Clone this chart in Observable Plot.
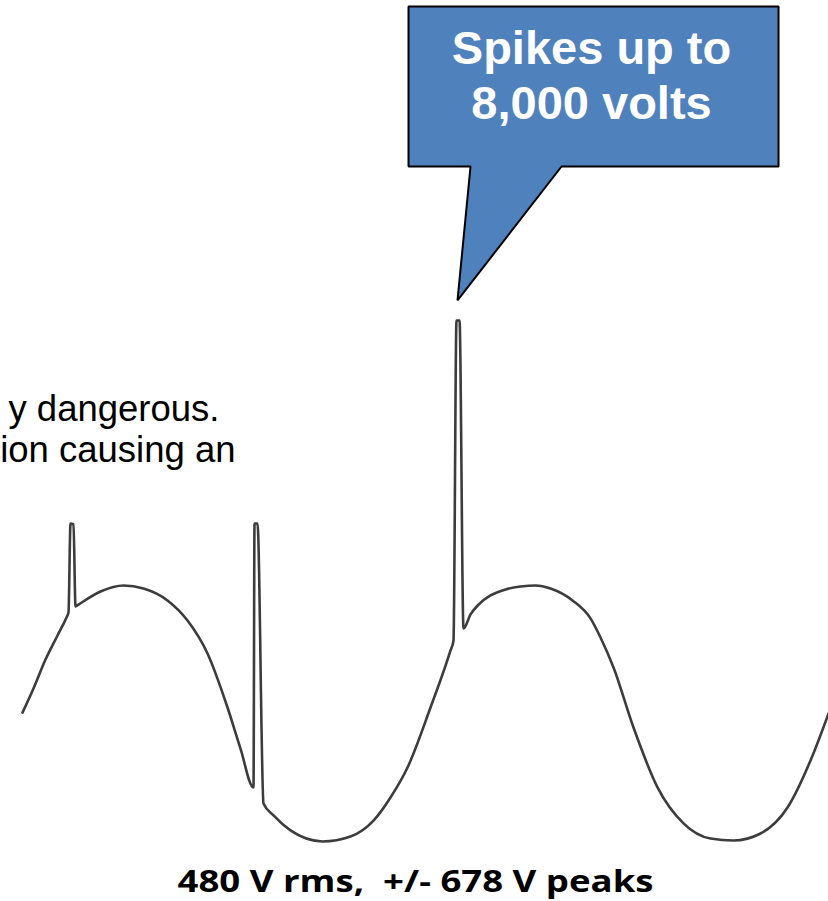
<!DOCTYPE html>
<html>
<head>
<meta charset="utf-8">
<script src="https://cdn.jsdelivr.net/npm/d3@7"></script>
<script src="https://cdn.jsdelivr.net/npm/@observablehq/plot@0.6"></script>
<style>
  html, body { margin: 0; padding: 0; background: #fff; }
  #chart svg { display: block; background: #fff; }
</style>
</head>
<body>
<div id="chart"></div>
<script>
// Waveform: time (ms) and voltage (V) (not to scale for the spikes)
const waveTime = [0.886, 1.328, 1.811, 2.295, 2.657, 2.737, 2.818, 2.939, 3.019, 3.140, 4.026, 4.951, 5.756, 6.723, 7.528, 8.333, 9.138, 9.661, 10.184, 10.225, 10.345, 10.587, 10.990, 11.674, 12.962, 14.089, 15.015, 15.699, 16.384, 17.310, 18.115, 18.235, 18.356, 18.477, 18.638, 18.920, 19.242, 19.725, 20.329, 20.933, 21.537, 22.140, 23.026, 23.750, 24.153, 24.676, 25.481, 26.447, 27.494, 28.581, 29.507, 30.594, 31.681, 32.606, 33.331];
const waveVolts = [-3, 124, 277, 404, 499, 525, 995, 990, 557, 567, 636, 668, 652, 589, 483, 309, 24, -193, -398, 995, 995, -483, -546, -625, -683, -657, -573, -451, -293, 24, 325, 377, 2066, 2066, 441, 515, 567, 615, 647, 662, 668, 652, 589, 494, 393, 235, -82, -398, -588, -668, -678, -641, -504, -256, -8];

// Callout shape (time, voltage) and its label
const calloutTime = [16.424, 31.318, 31.318, 22.583, 18.396, 18.920, 16.424];
const calloutVolts = [3723, 3723, 2879, 2879, 2172, 2879, 2879];
const calloutLabel = "Spikes up to\n8,000 volts";

// Other texts
const noteLines = ["y dangerous.", "ion causing an"];
const caption = "480 V rms,  +/- 678 V peaks";

const wave = waveTime.map((t, i) => ({t, v: waveVolts[i]}));
const callout = calloutTime.map((t, i) => ({t, v: calloutVolts[i]}));

const plot = Plot.plot({
  width: 828,
  height: 901,
  margin: 0,
  x: {domain: [0, 33.33], axis: null},
  y: {domain: [-1000, 3755], axis: null},
  marks: [
    Plot.line(wave, {x: "t", y: "v", stroke: "#3c3c3c", strokeWidth: 2.6, curve: "monotone-x", strokeLinejoin: "round"}),
    Plot.line(callout, {x: "t", y: "v", fill: "#4f81bd", stroke: "#000", strokeWidth: 2, curve: "linear-closed", strokeLinejoin: "miter"}),
    Plot.text([calloutLabel], {x: 23.79, y: 3132, text: d => d, fill: "#fff", fontSize: 47, fontWeight: "bold", fontFamily: "Liberation Sans, Arial, sans-serif", lineAnchor: "bottom", lineHeight: 1.17}),
    Plot.text([noteLines[0]], {x: 8.816, y: 1538, text: d => d, fill: "#000", fontSize: 36.5, fontFamily: "Liberation Sans, Arial, sans-serif", textAnchor: "end", lineAnchor: "bottom"}),
    Plot.text([noteLines[1]], {x: 9.461, y: 1317, text: d => d, fill: "#000", fontSize: 36.5, fontFamily: "Liberation Sans, Arial, sans-serif", textAnchor: "end", lineAnchor: "bottom"}),
    Plot.text([caption], {x: 16.707, y: -952, text: d => d, fill: "#000", fontSize: 30, fontWeight: "bold", fontFamily: "Open Sans, sans-serif", lineAnchor: "bottom"})
  ]
});

document.getElementById("chart").appendChild(plot);

// Fit the caption to the width it has in the reference
d3.select(plot).selectAll("text").each(function() {
  if (this.textContent === caption) {
    this.setAttribute("textLength", 476);
    this.setAttribute("lengthAdjust", "spacingAndGlyphs");
    this.style.whiteSpace = "pre";
  }
});
</script>
</body>
</html>
